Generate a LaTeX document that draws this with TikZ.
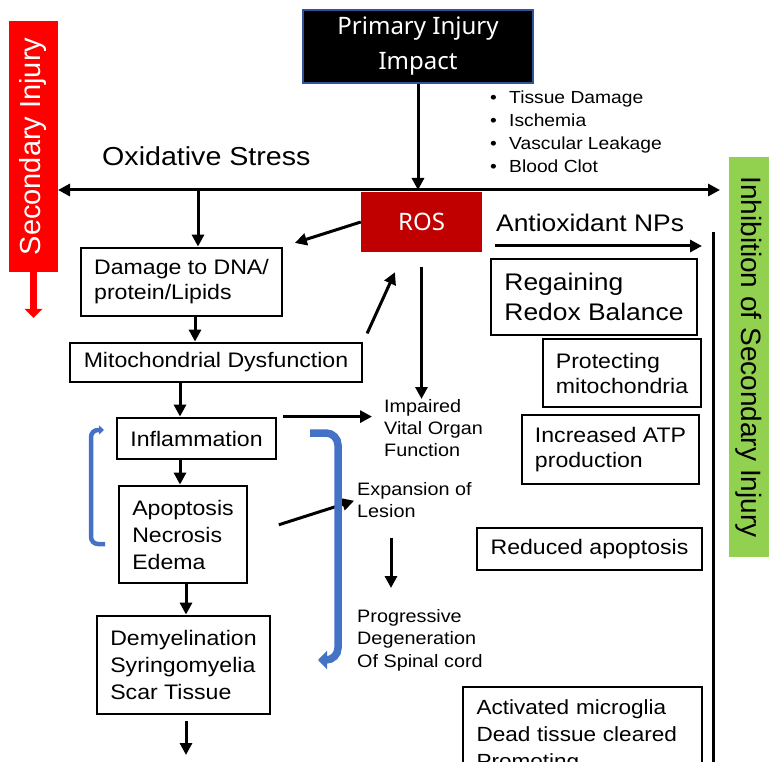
\documentclass[tikz,border=0pt]{standalone}
\usepackage{fontspec}
\setmainfont{Liberation Sans}[FakeStretch=1.1]
\newfontfamily\plainsans{Liberation Sans}
\newfontfamily\titlesans{Noto Sans}
\usetikzlibrary{arrows.meta}
\newcommand{\fsz}[2]{\fontsize{#1}{#2}\selectfont}
\definecolor{rosred}{HTML}{C00000}
\definecolor{leafgreen}{HTML}{92D050}
\definecolor{brkblue}{HTML}{4472C4}
\definecolor{edgeblue}{HTML}{2F5597}

\begin{document}
\begin{tikzpicture}[x=1pt, y=-1pt,
      box/.style = {draw, line width=2.8pt, align=left, inner sep=0pt},
      note/.style = {align=left, inner sep=0pt, anchor=north west},
      arr/.style = {line width=3pt, -{Triangle[length=12pt,width=12pt]}},
      dblarr/.style = {line width=3pt, {Triangle[length=12pt,width=12pt]}-{Triangle[length=12pt,width=12pt]}},
      loopL/.style = {brkblue, line width=4.5pt, rounded corners=7pt, -{Triangle[length=5pt,width=9pt]}},
      loopR/.style = {brkblue, line width=7.5pt, rounded corners=12pt, -{Triangle[length=9pt,width=18pt]}}]
      \useasboundingbox (0,0) rectangle (769,762);
      \clip (0,0) rectangle (769,762);

      % banners
      \node[fill=red, text=white, rotate=90, minimum width=251pt, minimum height=49pt, inner sep=0pt,
        font=\plainsans\fsz{29}{29}] (sec) at (33.5,146.5) {Secondary Injury};
      \node[fill=leafgreen, rotate=-90, minimum width=400pt, minimum height=40pt, inner sep=0pt,
        font=\plainsans\fsz{28}{28}] (inhib) at (749,357) {Inhibition of Secondary Injury};
      \coordinate (secTip) at (33.5,318);
      \draw[red, line width=7pt, -{Triangle[length=9pt,width=17pt]}] (sec.west) -- (secTip);

      \node[fill=black, draw=edgeblue, line width=1.5pt, text=white, align=center, minimum width=230pt,
        minimum height=73pt, inner sep=0pt, font=\titlesans\fsz{24}{35}] (primary) at (418,46.5) {Primary Injury\\Impact};
      \node[note, font=\fsz{17.5}{23}] (harm) at (490,90.5)
        {\makebox[19pt][l]{\textbullet}Tissue Damage\\\makebox[19pt][l]{\textbullet}Ischemia\\
         \makebox[19pt][l]{\textbullet}Vascular Leakage\\\makebox[19pt][l]{\textbullet}Blood Clot};
      \node[anchor=base west, inner sep=0pt, font=\fsz{26}{26}] (oxs) at (102,166) {Oxidative Stress};
      \node[fill=rosred, text=white, minimum width=121pt, minimum height=60pt,
        font=\titlesans\fsz{24}{24}] (ros) at (421.5,222) {ROS};
      \node[anchor=base west, inner sep=0pt, font=\fsz{24}{24}] (antiox) at (496,232) {Antioxidant NPs};

      % injury cascade
      \node[box, minimum width=201pt, minimum height=68pt, font=\fsz{21}{25}] (dna) at (181.5,282) {Damage to DNA/\\protein/Lipids};
      \node[box, minimum width=292pt, minimum height=39pt, font=\fsz{21}{25}] (mito) at (216,362.5) {Mitochondrial Dysfunction};
      \node[box, minimum width=159pt, minimum height=41pt, font=\fsz{21}{27}] (infl) at (196.5,438.5) {Inflammation};
      \node[box, minimum width=128pt, minimum height=97pt, font=\fsz{21}{27}] (apop) at (183,534.5) {Apoptosis\\Necrosis\\Edema};
      \node[box, minimum width=173pt, minimum height=98pt, font=\fsz{21}{27}] (demy) at (183.5,665) {Demyelination\\Syringomyelia\\Scar Tissue};
      \node[note, font=\fsz{18}{22}] (organ) at (384,399) {Impaired\\Vital Organ\\Function};
      \node[note, font=\fsz{18}{22}] (lesion) at (357,482) {Expansion of\\Lesion};
      \node[note, font=\fsz{18}{22.5}] (prog) at (357,609) {Progressive\\Degeneration\\Of Spinal cord};

      % antioxidant effects
      \node[box, minimum width=206pt, minimum height=76pt, font=\fsz{24}{30}] (redox) at (594,297) {Regaining\\Redox Balance};
      \node[box, minimum width=158pt, minimum height=68pt, font=\fsz{21}{25}] (protect) at (622,373) {Protecting\\mitochondria};
      \node[box, minimum width=177pt, minimum height=69pt, font=\fsz{21}{25}] (atp) at (610.5,449.5) {Increased ATP\\production};
      \node[box, minimum width=225pt, minimum height=42pt, font=\fsz{21}{25}] (apoless) at (589.5,549) {Reduced apoptosis};
      \node[box, minimum width=239pt, minimum height=99pt, text width=212pt, font=\fsz{20.5}{27}] (micro) at (582.5,736.5)
        {Activated microglia\\Dead tissue cleared\\Promoting};

      \coordinate (oxL) at (58,190);
      \coordinate (oxR) at (720,190);
      \coordinate (dropA) at (198,190);
      \coordinate (colB) at (195,0);
      \coordinate (colC) at (180,0);
      \coordinate (colD) at (186,0);
      \coordinate (colP) at (391,0);
      \coordinate (endD) at (186,755);
      \coordinate (npA) at (495,246);
      \coordinate (npB) at (702,246);
      \coordinate (barTop) at (713,232);
      \coordinate (barBot) at (713,770);

      \draw[dblarr] (oxL) -- (oxR);
      \draw[arr] (primary.south) -- (primary.south |- oxL);
      \draw[arr] (dropA) -- (dropA |- dna.north);
      \draw[arr] (dna.south -| colB) -- (mito.north -| colB);
      \draw[arr] (mito.south -| colC) -- (infl.north -| colC);
      \draw[arr] (infl.south -| colC) -- (apop.north -| colC);
      \draw[arr] (apop.south -| colD) -- (demy.north -| colD);
      \draw[arr, shorten <=6pt] (demy.south -| colD) -- (endD);
      \draw[arr, shorten >=12pt] (ros.west) -- (dna.north east);
      \draw[arr, shorten <=9pt, shorten >=22pt] (mito.north east) -- (ros.-120);
      \draw[arr, shorten <=15pt] (ros.south) -- (ros.south |- organ.north);
      \draw[arr, shorten <=6pt, shorten >=12pt] (infl.north east) -- (infl.north east -| organ.west);
      \draw[arr, shorten <=32pt, shorten >=3pt] (apop.east) -- (lesion.west);
      \draw[arr, shorten <=20pt, shorten >=21pt] (lesion.south -| colP) -- (prog.north -| colP);
      \draw[arr] (npA) -- (npB);
      \draw[line width=3pt] (barTop) -- (barBot);

      \draw[loopL] (105,544) -- (91,544) -- (91,430) -- (104,430);
      \draw[loopR] (310,433) -- (338,433) -- (338,660) -- (318,660);
\end{tikzpicture}
\end{document}
